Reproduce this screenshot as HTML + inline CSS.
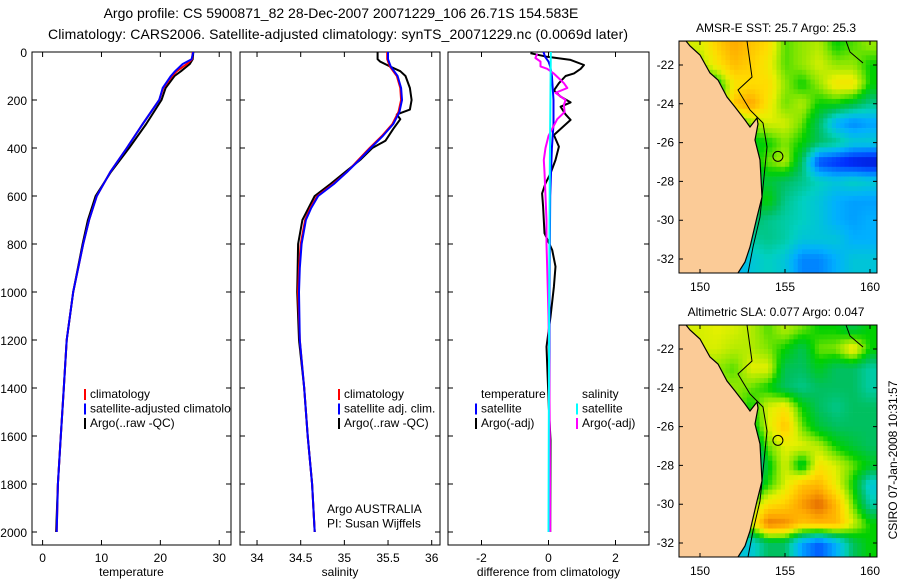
<!DOCTYPE html>
<html><head><meta charset="utf-8"><style>
html,body{margin:0;padding:0;background:#fff}
svg{display:block;font-family:"Liberation Sans",Arial,sans-serif}
</style></head><body>
<svg id="fig" width="900" height="580" viewBox="0 0 900 580" xmlns="http://www.w3.org/2000/svg">
<defs>
<clipPath id="c1"><rect x="32" y="52" width="199" height="493"/></clipPath>
<clipPath id="c2"><rect x="240" y="52" width="200" height="493"/></clipPath>
<clipPath id="c3"><rect x="448" y="52" width="201" height="493"/></clipPath>
<clipPath id="m1"><rect x="679" y="41" width="198" height="232"/></clipPath>
<clipPath id="m2"><rect x="679" y="325" width="198" height="232"/></clipPath>
</defs>
<text x="341" y="18" font-size="14" text-anchor="middle">Argo profile: CS 5900871_82 28-Dec-2007 20071229_106 26.71S 154.583E</text>
<text x="338" y="39" font-size="14" text-anchor="middle" textLength="580">Climatology: CARS2006. Satellite-adjusted climatology: synTS_20071229.nc (0.0069d later)</text>
<g id="p1"></g>
<g id="p2"></g>
<g id="p3"></g>
<g id="map1"></g>
<g id="map2"></g>
<text x="776" y="32" font-size="12" text-anchor="middle">AMSR-E SST: 25.7 Argo: 25.3</text>
<text x="776" y="316" font-size="12" text-anchor="middle">Altimetric SLA: 0.077 Argo: 0.047</text>
<text x="0" y="0" font-size="12" text-anchor="middle" transform="translate(897,460) rotate(-90)">CSIRO 07-Jan-2008 10:31:57</text>
</svg>
<script>
// ---- profile data ----
const depthT = [0,30,50,80,100,150,200,300,400,500,600,700,800,1000,1200,1400,1600,1800,2000];
const climT  = [25.5,25.4,24.5,22.8,22,20.5,19.8,17,14.3,11.5,9.2,7.9,6.9,5.2,4.1,3.6,3.1,2.6,2.4];
const satT   = [25.6,25.3,23.8,22.5,21.8,20.4,19.8,17,14.3,11.5,9.2,7.9,6.9,5.2,4.1,3.6,3.1,2.6,2.4];
const argoT  = [25.6,25.5,25.0,23.5,22.4,20.9,20.2,17.6,14.7,11.6,9.0,7.7,6.8,5.2,4.1,3.6,3.1,2.6,2.3];
const depthS = [0,30,60,100,150,200,250,300,350,400,450,500,550,600,650,700,800,900,1000,1200,1400,1600,1800,2000];
const climS  = [35.49,35.49,35.52,35.60,35.64,35.65,35.62,35.55,35.43,35.29,35.16,35.03,34.87,34.69,34.61,34.55,34.50,34.48,34.47,34.49,34.54,34.58,34.63,34.66];
const satS   = [35.50,35.50,35.53,35.61,35.65,35.66,35.63,35.56,35.44,35.30,35.17,35.03,34.88,34.70,34.62,34.56,34.51,34.49,34.48,34.49,34.54,34.58,34.63,34.66];
const depthA = [0,30,40,60,80,100,150,200,240,260,280,320,370,400,450,500,550,600,700,800,1000,1200,1400,1600,1800,2000];
const argoS  = [35.38,35.38,35.41,35.52,35.64,35.70,35.75,35.77,35.75,35.60,35.64,35.56,35.47,35.32,35.18,35.01,34.84,34.66,34.52,34.47,34.46,34.48,34.54,34.58,34.63,34.66];
const depthD = [5,20,33,54,70,89,100,130,160,186,210,228,260,283,346,394,450,506,547,589,644,755,825,894,978,1103,1228,1478,1617,2000];
const argoDT = [-0.54,-0.04,0.66,1.06,0.96,0.76,0.51,0.31,0.16,0.36,0.66,0.36,0.51,0.66,0.16,0.31,0.21,0.06,-0.09,-0.19,-0.16,-0.12,0.11,0.21,0.16,0.06,-0.06,0.01,0.06,0.05];
const depthM = [8,25,40,60,70,90,110,130,150,170,200,220,250,280,320,350,400,450,500,600,700,800,900,1100,1300,1600,2000];
const argoDS = [-0.34,-0.39,-0.24,-0.24,-0.04,0.16,0.31,0.46,0.56,0.21,0.51,0.46,0.48,0.26,0.11,0,-0.09,-0.14,-0.12,-0.09,-0.06,-0.06,-0.04,0,0.02,0.04,0.05];
const depthSat = [0,20,40,60,100,200,300,400,600,1000,2000];
const satDT  = [-0.15,-0.1,0.0,0.05,0.1,0.15,0.15,0.1,0.05,0.03,0.02];
const depthC = [0,500,1000,2000];
const satDS  = [0.07,0.04,0.02,0.0];
const depthTicks = [0,200,400,600,800,1000,1200,1400,1600,1800,2000];
const tempTicks = [0,10,20,30];
const salTicks = [34,34.5,35,35.5,36];
const diffTicks = [-2,0,2];
// ---- map data (value 0..1 on colour scale), rows lat -21..-32, cols lon 149..160 ----
const sstGrid = [
[.62,.62,.7,.76,.72,.68,.55,.58,.6,.52,.55,.58],
[.58,.58,.66,.73,.7,.65,.55,.58,.62,.58,.58,.52],
[.5,.5,.5,.66,.68,.68,.58,.52,.58,.66,.66,.52],
[.45,.45,.46,.72,.77,.66,.56,.6,.52,.52,.48,.42],
[.45,.45,.45,.5,.58,.62,.62,.56,.45,.3,.25,.28],
[.42,.42,.42,.45,.5,.52,.57,.52,.45,.42,.36,.36],
[.4,.4,.4,.45,.5,.56,.6,.45,.18,.14,.1,.08],
[.4,.4,.4,.42,.45,.48,.45,.42,.38,.35,.38,.36],
[.4,.4,.38,.42,.48,.52,.42,.38,.35,.3,.28,.28],
[.35,.35,.32,.4,.45,.42,.4,.38,.35,.3,.28,.3],
[.3,.3,.32,.38,.4,.42,.4,.35,.35,.35,.3,.3],
[.3,.3,.3,.3,.35,.38,.35,.25,.25,.3,.35,.35]];
const slaGrid = [
[.62,.62,.63,.62,.6,.55,.6,.56,.52,.52,.47,.52],
[.62,.62,.62,.6,.6,.57,.52,.46,.56,.57,.66,.52],
[.58,.58,.58,.55,.63,.63,.46,.45,.5,.45,.45,.4],
[.58,.58,.58,.58,.56,.52,.45,.42,.45,.45,.45,.4],
[.58,.58,.58,.58,.52,.62,.66,.52,.45,.42,.45,.45],
[.58,.58,.58,.58,.48,.62,.72,.56,.48,.45,.45,.45],
[.55,.55,.55,.55,.4,.56,.63,.63,.6,.52,.48,.45],
[.55,.55,.55,.55,.3,.5,.62,.48,.66,.62,.56,.5],
[.55,.55,.55,.55,.42,.53,.62,.72,.74,.64,.52,.35],
[.52,.52,.52,.53,.56,.67,.7,.78,.84,.74,.56,.4],
[.5,.5,.5,.5,.62,.82,.8,.72,.74,.74,.62,.52],
[.4,.4,.4,.35,.35,.45,.45,.28,.2,.3,.45,.52]];
const lonTicks = [150,155,160];
const latTicks = [-22,-24,-26,-28,-30,-32];
const argoLon = 154.583, argoLat = -26.71;

const NS='http://www.w3.org/2000/svg';
function mk(tag,attrs,parent){const e=document.createElementNS(NS,tag);for(const k in attrs)e.setAttribute(k,attrs[k]);parent.appendChild(e);return e;}
const Y0=52, KY=0.24;
const yD = d => Y0 + d*KY;

function panel(g,x0,x1,xmin,xmax,clip,ticks,fmt,xlabel,showY){
  const sx = v => x0 + (v-xmin)/(xmax-xmin)*(x1-x0);
  const box = mk('rect',{x:x0,y:52,width:x1-x0,height:493,fill:'#fff',stroke:'#000','stroke-width':1},g);
  
  
  depthTicks.forEach(d=>{
    const y=yD(d);
    const t=mk('path',{d:`M${x0},${y}h5M${x1},${y}h-5`,stroke:'#000','stroke-width':1},g);
    
    
    if(showY){
      const l=mk('text',{x:27,y:y+5,'font-size':12,'text-anchor':'end'},g);
      l.textContent=d;
      
      
    }
  });
  ticks.forEach(v=>{
    const x=sx(v);
    const t=mk('path',{d:`M${x},52v5M${x},545v-5`,stroke:'#000','stroke-width':1},g);
    
    
    const l=mk('text',{x:x,y:562,'font-size':12,'text-anchor':'middle'},g);
    l.textContent=fmt(v);
    
    
  });
  const xl=mk('text',{x:(x0+x1)/2,y:576,'font-size':12,'text-anchor':'middle'},g);
  xl.textContent=xlabel;
  
  
  const inner=mk('g',{'clip-path':`url(#${clip})`},g);
  
  
  return {sx,inner};
}
function line(p,vals,deps,color,w,name){
  const pts=vals.map((v,i)=>`${p.sx(v).toFixed(1)},${yD(deps[i]).toFixed(1)}`).join(' ');
  const l=mk('polyline',{points:pts,fill:'none',stroke:color,'stroke-width':w,'stroke-linejoin':'round'},p.inner);
  
  
}
function legend(g,x,y,items,clip){
  const lg=mk('g',clip?{'clip-path':`url(#${clip})`}:{},g);
  
  
  items.forEach((it,i)=>{
    const yy=y+i*14.5;
    if(it[1]){const b=mk('rect',{x:x,y:yy-9,width:2,height:11,fill:it[1]},lg);
      
      }
    const t=mk('text',{x:x+6,y:yy,'font-size':12},lg);
    t.textContent=it[0];
    
    
  });
}
// panel 1
const g1=document.getElementById('p1');
const P1=panel(g1,32,231,-1.8,32,'c1',tempTicks,v=>v,'temperature',true);
line(P1,argoT,depthT,'#000',2,'argo-temperature-line');
line(P1,climT,depthT,'#f00',2,'climatology-temperature-line');
line(P1,satT,depthT,'#00f',2,'satellite-temperature-line');
legend(g1,84,398,[['climatology','#f00'],['satellite-adjusted climatology','#00f'],['Argo(..raw -QC)','#000']],'c1');
// panel 2
const g2=document.getElementById('p2');
const P2=panel(g2,240,440,33.805,36.095,'c2',salTicks,v=>v,'salinity',false);
line(P2,argoS,depthA,'#000',2,'argo-salinity-line');
line(P2,climS,depthS,'#f00',2,'climatology-salinity-line');
line(P2,satS,depthS,'#00f',2,'satellite-salinity-line');
legend(g2,338,398,[['climatology','#f00'],['satellite adj. clim.','#00f'],['Argo(..raw -QC)','#000']],'c2');
legend(g2,321,513,[['Argo AUSTRALIA',null],['PI: Susan Wijffels',null]],'c2');
// panel 3
const g3=document.getElementById('p3');
const P3=panel(g3,448,649,-3,3,'c3',diffTicks,v=>v,'difference from climatology',false);
line(P3,argoDT,depthD,'#000',2,'argo-temperature-difference-line');
line(P3,satDT,depthSat,'#00f',2,'satellite-temperature-difference-line');
line(P3,argoDS,depthM,'#f0f',2,'argo-salinity-difference-line');
line(P3,satDS,depthC,'#0ff',2,'satellite-salinity-difference-line');
legend(g3,475,398,[['temperature',null],['satellite','#00f'],['Argo(-adj)','#000']],null);
legend(g3,576,398,[['salinity',null],['satellite','#0ff'],['Argo(-adj)','#f0f']],null);

// ---- maps ----
const cstops=[[0,[0,0,143]],[.15,[0,48,255]],[.3,[0,176,255]],[.38,[0,208,192]],[.45,[0,192,96]],[.52,[0,208,0]],[.57,[130,230,0]],[.63,[230,240,0]],[.68,[255,220,0]],[.76,[255,170,0]],[.85,[224,96,0]],[1,[160,0,0]]];
function cmap(v){v=Math.max(0,Math.min(1,v));for(let i=1;i<cstops.length;i++){if(v<=cstops[i][0]){const a=cstops[i-1],b=cstops[i],f=(v-a[0])/(b[0]-a[0]);return 'rgb('+a[1].map((c,j)=>Math.round(c+(b[1][j]-c)*f)).join(',')+')';}}return 'rgb(160,0,0)';}
function gridVal(G,lon,lat){
  let c=Math.max(0,Math.min(10.999,lon-149)), r=Math.max(0,Math.min(10.999,-21-lat));
  const c0=Math.floor(c),r0=Math.floor(r),fc=c-c0,fr=r-r0;
  return G[r0][c0]*(1-fc)*(1-fr)+G[r0][c0+1]*fc*(1-fr)+G[r0+1][c0]*(1-fc)*fr+G[r0+1][c0+1]*fc*fr;
}
function drawMap(g,G,dy,clip){
  const X = lon => 700+(lon-150)*17;
  const Yl = lat => 65+dy+(-22-lat)*19.4;
  const cells=mk('g',{'clip-path':`url(#${clip})`},g);
  
  
  for(let lon=148.75;lon<160.3;lon+=0.25){
    for(let lat=-20.75;lat>-32.8;lat-=0.25){
      const r=mk('rect',{x:X(lon).toFixed(1),y:Yl(lat).toFixed(1),width:4.6,height:5.2,fill:cmap(gridVal(G,lon+0.125,lat-0.125))},cells);
      
      
    }
  }
  const lp=[[679,41],[686,41],[690,46],[700,55],[710,73],[718,80],[727,97],[735,107],[745,120],[750,127],[757,118],[758,124],[755,140],[760,160],[762,197],[760,205],[757,217],[750,247],[745,262],[738,273]];
  const pts=lp.map(p=>p[0]+','+(p[1]+dy)).join(' ');
  const land=mk('polygon',{points:pts+` 679,${273+dy}`,fill:'#fbcb97',stroke:'none'},cells);
  
  
  const coast=mk('polyline',{points:pts,fill:'none',stroke:'#000','stroke-width':1.2},cells);
  
  
  const iso=[[747,41],[752,77],[738,90],[750,110],[763,123],[767,147],[763,187],[760,217],[753,247],[748,273]];
  const is=mk('polyline',{points:iso.map(p=>p[0]+','+(p[1]+dy)).join(' '),fill:'none',stroke:'#000','stroke-width':1},cells);
  
  
  const is2=mk('polyline',{points:`846,${41+dy} 850,${52+dy} 863,${63+dy}`,fill:'none',stroke:'#000','stroke-width':1},cells);
  
  
  const ci=mk('circle',{cx:X(argoLon),cy:Yl(argoLat),r:5,fill:'none',stroke:'#000','stroke-width':1},g);
  
  
  const fr=mk('rect',{x:679,y:41+dy,width:198,height:232,fill:'none',stroke:'#000','stroke-width':1},g);
  
  
  lonTicks.forEach(v=>{
    const x=X(v);
    const t=mk('path',{d:`M${x},${41+dy}v4M${x},${273+dy}v-4`,stroke:'#000'},g);
    
    
    const l=mk('text',{x:x,y:291+dy,'font-size':12,'text-anchor':'middle'},g);
    l.textContent=v;
    
    
  });
  latTicks.forEach(v=>{
    const y=Yl(v);
    const t=mk('path',{d:`M679,${y}h4M877,${y}h-4`,stroke:'#000'},g);
    
    
    const l=mk('text',{x:674,y:y+4,'font-size':12,'text-anchor':'end'},g);
    l.textContent=v;
    
    
  });
}
drawMap(document.getElementById('map1'),sstGrid,0,'m1');
drawMap(document.getElementById('map2'),slaGrid,284,'m2');
</script>
</body></html>
